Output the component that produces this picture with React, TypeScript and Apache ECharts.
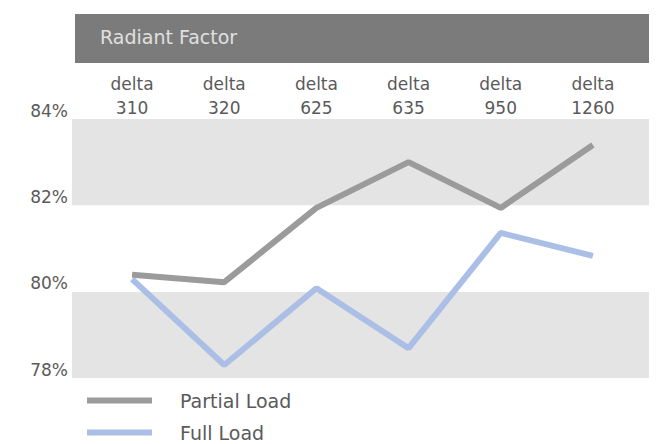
import React, { useEffect, useRef } from "react";
import * as echarts from "echarts";

const categories = ["delta\n310", "delta\n320", "delta\n625", "delta\n635", "delta\n950", "delta\n1260"];
const partialLoad = [80.39, 80.22, 81.94, 83.0, 81.94, 83.4];
const fullLoad = [80.29, 78.3, 80.08, 78.69, 81.36, 80.83];
const yMin = 78;
const yMax = 84;
const yStep = 2;
const titleText = "Radiant Factor";

const FONT = "DejaVu Sans";

export default function App() {
  const ref = useRef<HTMLDivElement>(null);
  useEffect(() => {
    if (!ref.current) return;
    const chart = echarts.init(ref.current, undefined, { renderer: "svg" });
    const legendBase = {
      orient: "horizontal",
      left: 87,
      itemWidth: 65,
      itemHeight: 6,
      padding: 0,
      icon: "rect",
      textStyle: { fontSize: 19, color: "#5a5a5a", padding: [0, 0, 0, 23], fontFamily: FONT },
    };
    chart.setOption({
      animation: false,
      backgroundColor: "#ffffff",
      textStyle: { fontFamily: FONT },
      graphic: [
        {
          type: "rect",
          left: 75,
          top: 14,
          shape: { width: 582, height: 49 },
          style: { fill: "#7b7b7b" },
          z: 0,
        },
        {
          type: "text",
          left: 100,
          top: 27,
          style: { text: titleText, fill: "#e0e0e0", font: `19px "${FONT}"` },
          z: 1,
        },
      ],
      grid: [
        { left: 86, right: 18, top: 119, bottom: 66 },
        { left: 72, right: 7, top: 119, bottom: 66 },
      ],
      xAxis: [
        {
          gridIndex: 0,
          type: "category",
          data: categories,
          position: "top",
          boundaryGap: true,
          axisLine: { show: false },
          axisTick: { show: false },
          splitLine: { show: false },
          axisLabel: { fontSize: 17, lineHeight: 24, color: "#5a5a5a", margin: -1, fontFamily: FONT },
        },
        { gridIndex: 1, type: "value", show: false, min: 0, max: 1 },
      ],
      yAxis: [
        { gridIndex: 0, type: "value", min: yMin, max: yMax, show: false, splitLine: { show: false } },
        {
          gridIndex: 1,
          type: "value",
          min: yMin,
          max: yMax,
          interval: yStep,
          axisLine: { show: false },
          axisTick: { show: false },
          splitLine: { show: false },
          splitArea: { show: true, areaStyle: { color: ["#e4e4e4", "#ffffff"] } },
          axisLabel: {
            formatter: "{value}%",
            fontSize: 17,
            color: "#5a5a5a",
            margin: 4,
            verticalAlign: "bottom",
            fontFamily: FONT,
          },
        },
      ],
      legend: [
        { ...legendBase, top: 391, data: ["Partial Load"] },
        { ...legendBase, top: 423, data: ["Full Load"] },
      ],
      series: [
        {
          name: "Partial Load",
          type: "line",
          xAxisIndex: 0,
          yAxisIndex: 0,
          data: partialLoad,
          symbol: "none",
          lineStyle: { width: 6, color: "#9b9b9b" },
          itemStyle: { color: "#9b9b9b" },
        },
        {
          name: "Full Load",
          type: "line",
          xAxisIndex: 0,
          yAxisIndex: 0,
          data: fullLoad,
          symbol: "none",
          lineStyle: { width: 6, color: "#abbfe6" },
          itemStyle: { color: "#abbfe6" },
        },
      ],
    });
    return () => chart.dispose();
  }, []);
  return <div ref={ref} style={{ width: 657, height: 444, marginLeft: -8, marginTop: -8 }} />;
}
